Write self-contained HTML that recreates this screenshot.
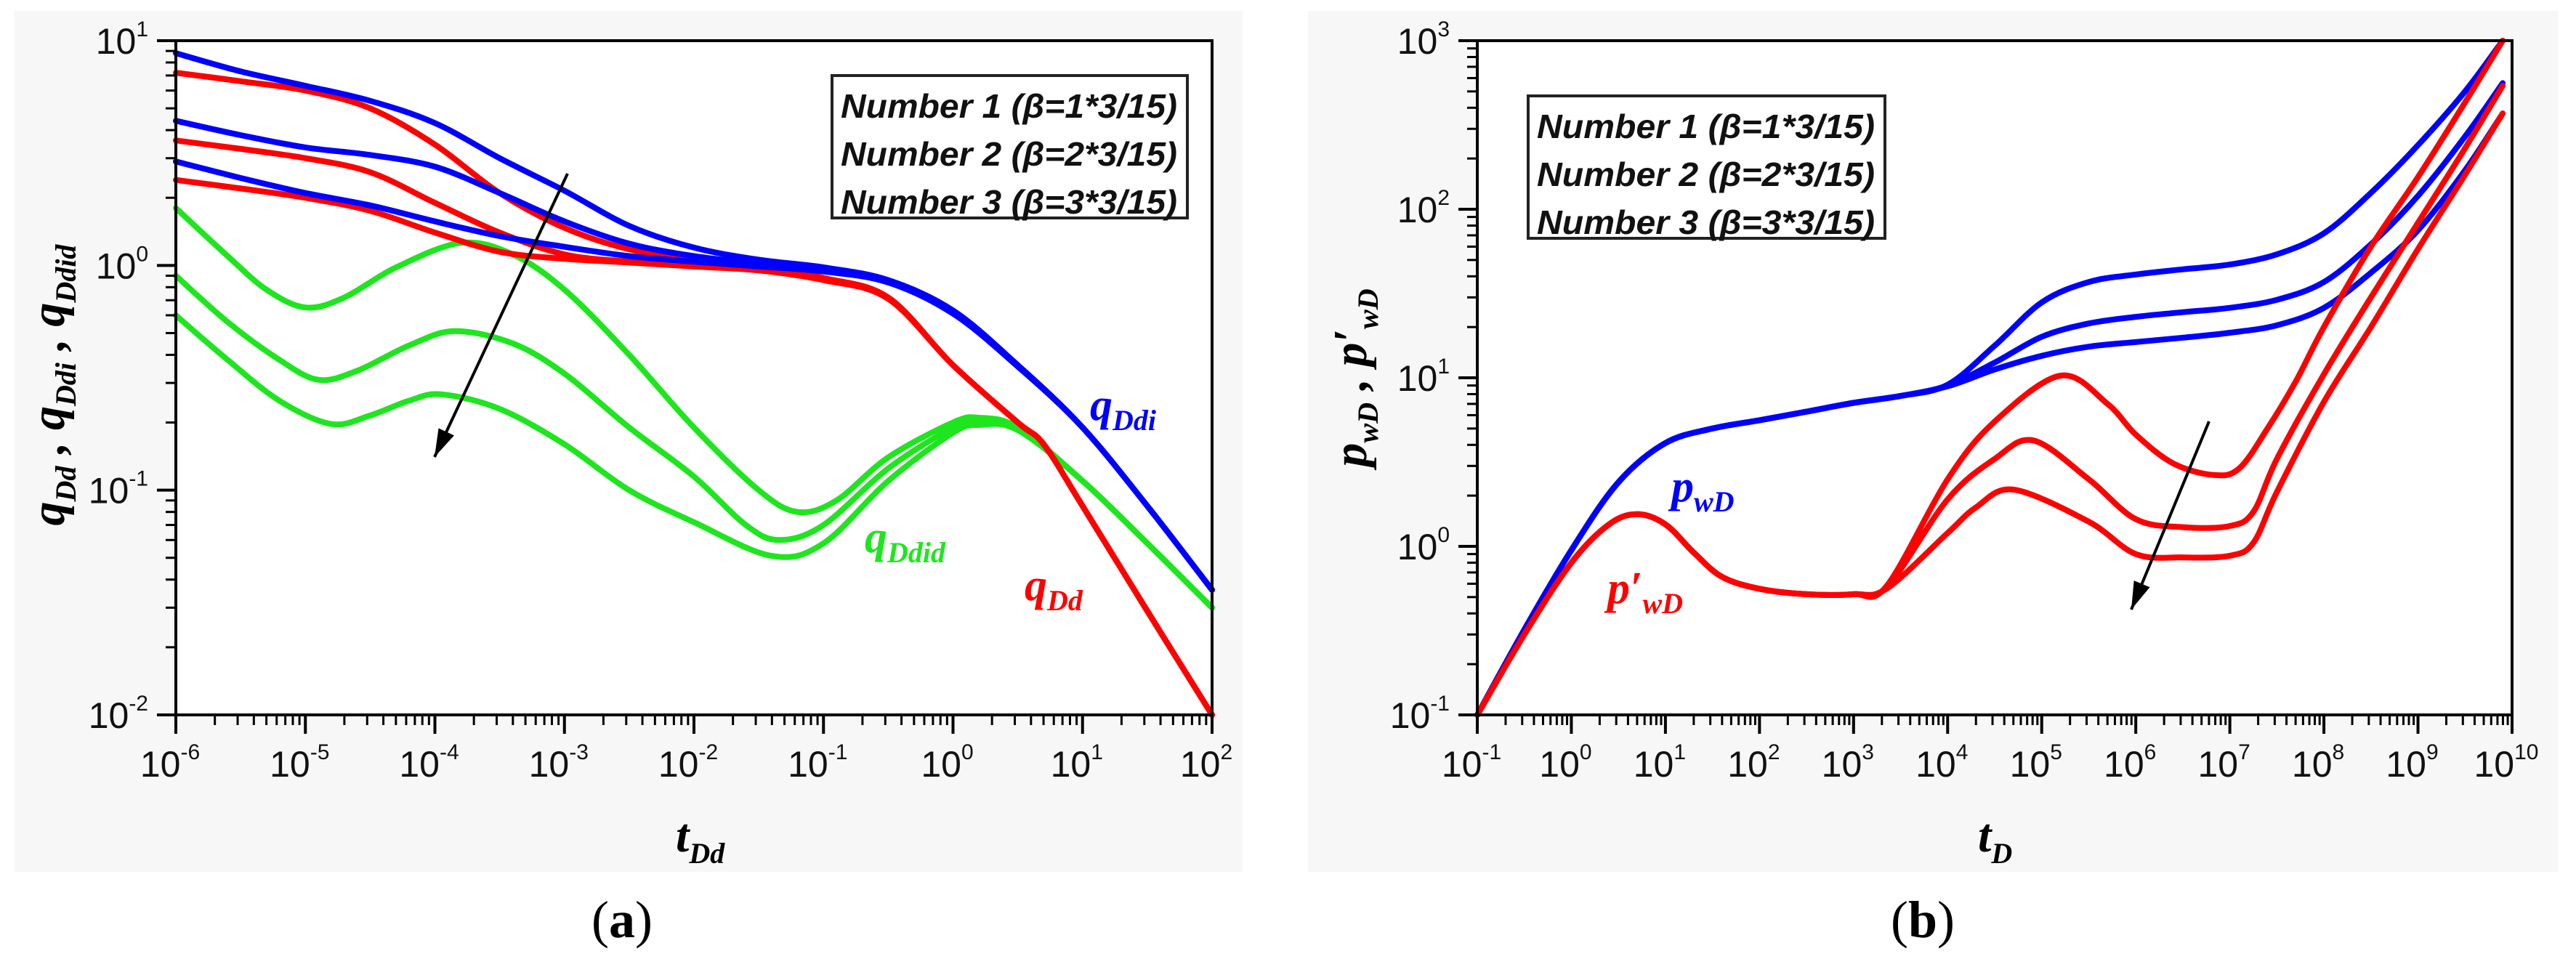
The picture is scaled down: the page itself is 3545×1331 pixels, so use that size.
<!DOCTYPE html>
<html><head><meta charset="utf-8">
<style>
html,body{margin:0;padding:0;background:#fff;}
svg{display:block;}
.tick{font-family:"Liberation Sans",Arial,sans-serif;font-size:50px;fill:#111;}
.sup{font-size:30px;}
.ttl{font-family:"Liberation Serif",serif;font-weight:bold;font-style:italic;font-size:66px;}
.leg{font-family:"Liberation Sans",sans-serif;font-weight:bold;font-style:italic;font-size:46px;fill:#111;}
.cap{font-family:"Liberation Serif",serif;font-size:72px;fill:#000;}
</style></head>
<body>
<svg id="fig" width="3545" height="1331" viewBox="0 0 3545 1331" xmlns="http://www.w3.org/2000/svg">
<rect x="0" y="0" width="3545" height="1331" fill="#ffffff"/>
<rect x="20" y="15" width="1690" height="1185" fill="#f7f7f7"/>
<rect x="1800" y="15" width="1720" height="1185" fill="#f7f7f7"/>
<rect x="242" y="56" width="1426" height="928" fill="#ffffff"/>
<rect x="2033" y="56" width="1424" height="928" fill="#ffffff"/>
<g id="gA"></g>
<g id="gB"></g>
</svg>
<script>
// ---------- Panel (a) data ----------
const tA = [-6,-5.5,-5,-4.5,-4,-3.5,-3,-2.5,-2,-1.5,-1,-0.5,0,0.5,1,1.5,2];
const qDdi1 = [8.8,7.3,6.3,5.4,4.3,3.0,2.15,1.5,1.2,1.06,0.98,0.86,0.63,0.36,0.19,0.085,0.036];
const qDdi2 = [4.4,3.8,3.35,3.1,2.75,2.1,1.57,1.25,1.1,1.02,0.96,0.85,0.62,0.36,0.19,0.085,0.036];
const qDdi3 = [2.9,2.45,2.1,1.85,1.57,1.35,1.21,1.1,1.04,0.99,0.94,0.84,0.61,0.355,0.19,0.085,0.036];
const tR = [-6,-5.5,-5,-4.5,-4,-3.5,-3,-2.5,-2,-1.5,-1,-0.5,0,0.5,0.7,1,1.5,2];
const qDd1 = [7.2,6.6,6.0,5.0,3.45,2.1,1.47,1.18,1.07,1.0,0.88,0.72,0.36,0.2,0.16,0.085,0.029,0.01];
const qDd2 = [3.6,3.3,3.0,2.6,1.9,1.4,1.12,1.04,1.0,0.96,0.87,0.71,0.36,0.2,0.16,0.085,0.029,0.01];
const qDd3 = [2.4,2.2,2.0,1.75,1.4,1.15,1.07,1.03,0.99,0.95,0.86,0.71,0.36,0.2,0.16,0.085,0.029,0.01];
const tG1 = [-6,-5.6,-5.3,-5,-4.7,-4.3,-3.8,-3.4,-3,-2.5,-2,-1.5,-1.2,-0.9,-0.5,0,0.2,0.5,1,1.5,2];
const qDdid1 = [1.8,1.1,0.78,0.65,0.72,0.98,1.26,1.12,0.78,0.4,0.19,0.1,0.08,0.09,0.14,0.2,0.21,0.19,0.11,0.058,0.03];
const tG2 = [-6,-5.6,-5.2,-4.9,-4.6,-4.2,-3.85,-3.4,-3,-2.5,-2,-1.6,-1.34,-1,-0.5,0,0.2,0.5,1,1.5,2];
const qDdid2 = [0.9,0.56,0.38,0.31,0.34,0.44,0.51,0.45,0.33,0.19,0.115,0.07,0.06,0.07,0.125,0.19,0.205,0.19,0.11,0.058,0.03];
const tG3 = [-6,-5.6,-5.2,-4.8,-4.5,-4.2,-3.95,-3.5,-3,-2.5,-2,-1.4,-1,-0.5,0,0.2,0.5,1,1.5,2];
const qDdid3 = [0.6,0.38,0.25,0.197,0.215,0.25,0.267,0.23,0.16,0.1,0.072,0.051,0.058,0.11,0.18,0.195,0.185,0.11,0.058,0.03];
const xTicksA = [-6,-5,-4,-3,-2,-1,0,1,2];
const yTicksA = [-2,-1,0,1];

// ---------- Panel (b) data ----------
const tP = [-1,-0.5,0,0.5,1,1.5,2,2.5,3,3.5,4,4.5,5,5.5,6,6.5,7,7.5,8,8.5,9,9.5,9.9];
const pwD1 = [0.1,0.32,0.95,2.4,4.1,5.0,5.6,6.3,7.1,7.8,9.1,15.5,28,37,41,44,47,54,72,125,240,500,1000];
const pwD2 = [0.1,0.32,0.95,2.4,4.1,5.0,5.6,6.3,7.1,7.8,9.0,12.3,17.5,21,23,24.5,26,29,37,62,120,270,560];
const pwD3 = [0.1,0.32,0.95,2.4,4.1,5.0,5.6,6.3,7.1,7.8,8.9,11.2,13.5,15.3,16.3,17.3,18.5,20.5,26,42,75,170,370];
const tR1 = [-1,-0.5,0,0.4,0.7,1,1.3,1.6,2,2.5,3,3.35,4,4.5,5.2,5.7,6,6.4,6.83,7.1,7.4,7.7,8,8.5,9,9.5,9.9];
const dpwD1 = [0.1,0.3,0.8,1.35,1.55,1.35,0.92,0.66,0.56,0.52,0.52,0.58,2.5,5.5,10.3,7,4.6,3.1,2.65,2.9,5,9.5,20,60,155,430,1000];
const tR2 = [-1,-0.5,0,0.4,0.7,1,1.3,1.6,2,2.5,3,3.35,4,4.5,4.91,5.5,6,6.5,7,7.25,7.5,8,8.5,9,9.5,9.9];
const dpwD2 = [0.1,0.3,0.8,1.35,1.55,1.35,0.92,0.66,0.56,0.52,0.52,0.57,1.9,3.3,4.25,2.5,1.45,1.3,1.32,1.6,3.3,10.5,30,83,230,540];
const tR3 = [-1,-0.5,0,0.4,0.7,1,1.3,1.6,2,2.5,3,3.35,4,4.3,4.7,5.5,6,6.5,7,7.25,7.5,8,8.5,9,9.5,9.9];
const dpwD3 = [0.1,0.3,0.8,1.35,1.55,1.35,0.92,0.66,0.56,0.52,0.52,0.56,1.2,1.7,2.17,1.4,0.9,0.86,0.88,1.05,2.1,7.2,20,58,160,370];
const xTicksB = [-1,0,1,2,3,4,5,6,7,8,9,10];
const yTicksB = [-1,0,1,2,3];

const NS = "http://www.w3.org/2000/svg";
function mk(tag, attrs, parent){const e=document.createElementNS(NS,tag);for(const k in attrs)e.setAttribute(k,attrs[k]);parent.appendChild(e);return e;}

function axisFns(x0,x1,lx0,lx1,y0,y1,ly0,ly1){
  return {
    X: e => x0 + (e-lx0)/(lx1-lx0)*(x1-x0),
    Y: v => y1 - (Math.log10(v)-ly0)/(ly1-ly0)*(y1-y0),
    YL: e => y1 - (e-ly0)/(ly1-ly0)*(y1-y0)
  };
}
function smoothPath(pts){
  let d = "M"+pts[0][0].toFixed(1)+","+pts[0][1].toFixed(1);
  for(let i=0;i<pts.length-1;i++){
    const p0=pts[i-1]||pts[i], p1=pts[i], p2=pts[i+1], p3=pts[i+2]||p2;
    const c1=[p1[0]+(p2[0]-p0[0])/6, p1[1]+(p2[1]-p0[1])/6];
    const c2=[p2[0]-(p3[0]-p1[0])/6, p2[1]-(p3[1]-p1[1])/6];
    d+=" C"+c1[0].toFixed(1)+","+c1[1].toFixed(1)+" "+c2[0].toFixed(1)+","+c2[1].toFixed(1)+" "+p2[0].toFixed(1)+","+p2[1].toFixed(1);
  }
  return d;
}
function drawSeries(g, ax, ts, vs, color, name){
  const pts = ts.map((t,i)=>[ax.X(t), ax.Y(vs[i])]);
  const p = mk("path",{d:smoothPath(pts),fill:"none",stroke:color,"stroke-width":8,"stroke-linejoin":"round","stroke-linecap":"round"},g);
  
  
}
function drawAxes(g, ax, x0,x1,y0,y1, xt, yt, pref){
  const fr = mk("rect",{x:x0,y:y0,width:x1-x0,height:y1-y0,fill:"none",stroke:"#000","stroke-width":4},g);
  
  
  for(let i=0;i<xt.length;i++){
    const e=xt[i], x=ax.X(e);
    const tk = mk("line",{x1:x,y1:y1,x2:x,y2:y1+26,stroke:"#000","stroke-width":4},g);
    
    
    if(i<xt.length-1){
      for(let m=2;m<10;m++){
        const xm=ax.X(e+Math.log10(m));
        const mt = mk("line",{x1:xm,y1:y1,x2:xm,y2:y1+14,stroke:"#000","stroke-width":3},g);
        
        
      }
    }
    const t = mk("text",{x:x-8,y:y1+85,"text-anchor":"middle",class:"tick"},g);
    
    
    t.appendChild(document.createTextNode("10"));
    const s = mk("tspan",{class:"sup",dy:-24},t); s.textContent = String(e);
  }
  for(let i=0;i<yt.length;i++){
    const e=yt[i], y=ax.YL(e);
    const tk = mk("line",{x1:x0-26,y1:y,x2:x0,y2:y,stroke:"#000","stroke-width":4},g);
    
    
    if(i<yt.length-1){
      for(let m=2;m<10;m++){
        const ym=ax.YL(e+Math.log10(m));
        const mt = mk("line",{x1:x0-14,y1:ym,x2:x0,y2:ym,stroke:"#000","stroke-width":3},g);
        
        
      }
    }
    const t = mk("text",{x:x0-38,y:y+18,"text-anchor":"end",class:"tick"},g);
    
    
    t.appendChild(document.createTextNode("10"));
    const s = mk("tspan",{class:"sup",dy:-24},t); s.textContent = String(e);
  }
}
function arrow(g,x1,y1,x2,y2,name){
  const l = mk("line",{x1:x1,y1:y1,x2:x2,y2:y2,stroke:"#000","stroke-width":4},g);
  
  
  const a=Math.atan2(y2-y1,x2-x1), L=40, w=0.3;
  const p=[[x2,y2],[x2-L*Math.cos(a-w),y2-L*Math.sin(a-w)],[x2-L*Math.cos(a+w),y2-L*Math.sin(a+w)]];
  const h = mk("polygon",{points:p.map(q=>q.join(",")).join(" "),fill:"#000"},g);
  
  
}
function legend(g,x,y,w,h,pref){
  const r = mk("rect",{x:x,y:y,width:w,height:h,fill:"#fff",stroke:"#222","stroke-width":4},g);
  
  
  const rows=["Number 1 (\u03b2=1*3/15)","Number 2 (\u03b2=2*3/15)","Number 3 (\u03b2=3*3/15)"];
  rows.forEach((s,i)=>{
    const t = mk("text",{x:x+12,y:y+58+i*66,class:"leg",textLength:w-26,lengthAdjust:"spacingAndGlyphs"},g);
    
    
    t.textContent=s;
  });
}

// ---------- Panel (a) ----------
const gA=document.getElementById("gA");
const axA=axisFns(242,1668,-6,2,56,984,-2,1);
drawSeries(gA,axA,tG1,qDdid1,"#1ee61e","qDdid-curve-1");
drawSeries(gA,axA,tG2,qDdid2,"#1ee61e","qDdid-curve-2");
drawSeries(gA,axA,tG3,qDdid3,"#1ee61e","qDdid-curve-3");
drawSeries(gA,axA,tR,qDd1,"#ff0000","qDd-curve-1");
drawSeries(gA,axA,tR,qDd2,"#ff0000","qDd-curve-2");
drawSeries(gA,axA,tR,qDd3,"#ff0000","qDd-curve-3");
drawSeries(gA,axA,tA,qDdi1,"#0000ff","qDdi-curve-1");
drawSeries(gA,axA,tA,qDdi2,"#0000ff","qDdi-curve-2");
drawSeries(gA,axA,tA,qDdi3,"#0000ff","qDdi-curve-3");
drawAxes(gA,axA,242,1668,56,984,xTicksA,yTicksA,"plot-a");
legend(gA,1145,104,489,196,"plot-a");
arrow(gA,781,239,598,629,"trend-arrow-a");

// ---------- Panel (b) ----------
const gB=document.getElementById("gB");
const axB=axisFns(2033,3457,-1,10,56,984,-1,3);
drawSeries(gB,axB,tP,pwD1,"#0000ff","pwD-curve-1");
drawSeries(gB,axB,tP,pwD2,"#0000ff","pwD-curve-2");
drawSeries(gB,axB,tP,pwD3,"#0000ff","pwD-curve-3");
drawSeries(gB,axB,tR1,dpwD1,"#ff0000","dpwD-curve-1");
drawSeries(gB,axB,tR2,dpwD2,"#ff0000","dpwD-curve-2");
drawSeries(gB,axB,tR3,dpwD3,"#ff0000","dpwD-curve-3");
drawAxes(gB,axB,2033,3457,56,984,xTicksB,yTicksB,"plot-b");
legend(gB,2103,132,491,196,"plot-b");
arrow(gB,3040,580,2933,839,"trend-arrow-b");
</script>
<svg width="3545" height="1331" viewBox="0 0 3545 1331" style="position:absolute;left:0;top:0;pointer-events:none" xmlns="http://www.w3.org/2000/svg">
<g font-family="Liberation Serif, serif" font-weight="bold" font-style="italic">
 <text x="1500" y="578" font-size="62" fill="#0000ff">q<tspan font-size="40" dy="14">Ddi</tspan></text>
 <text x="1190" y="760" font-size="62" fill="#1ee61e">q<tspan font-size="40" dy="14">Ddid</tspan></text>
 <text x="1410" y="826" font-size="62" fill="#ff0000">q<tspan font-size="40" dy="14">Dd</tspan></text>
 <text x="930" y="1172" font-size="66" fill="#000">t<tspan font-size="40" dy="16">Dd</tspan></text>
 <text transform="translate(88,530) rotate(-90)" text-anchor="middle" font-size="66" fill="#000">q<tspan font-size="40" dy="16">Dd</tspan><tspan dy="-16"> , q</tspan><tspan font-size="40" dy="16">Ddi</tspan><tspan dy="-16"> , q</tspan><tspan font-size="40" dy="16">Ddid</tspan></text>
 <text x="2300" y="690" font-size="62" fill="#0000ff">p<tspan font-size="40" dy="14">wD</tspan></text>
 <text x="2212" y="830" font-size="62" fill="#ff0000">p′<tspan font-size="40" dy="14">wD</tspan></text>
 <text x="2722" y="1172" font-size="66" fill="#000">t<tspan font-size="40" dy="16">D</tspan></text>
 <text transform="translate(1880,520) rotate(-90)" text-anchor="middle" font-size="66" fill="#000">p<tspan font-size="40" dy="16">wD</tspan><tspan dy="-16"> , p′</tspan><tspan font-size="40" dy="16">wD</tspan></text>
</g>
<text x="856" y="1290" text-anchor="middle" font-family="Liberation Serif, serif" font-size="72">(<tspan font-weight="bold">a</tspan>)</text>
<text x="2646" y="1290" text-anchor="middle" font-family="Liberation Serif, serif" font-size="72">(<tspan font-weight="bold">b</tspan>)</text>
</svg>
</body></html>
